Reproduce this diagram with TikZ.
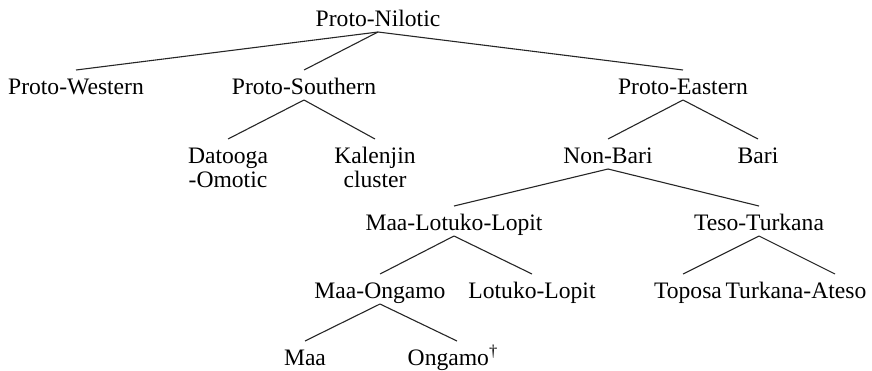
\documentclass[tikz,border=0pt]{standalone}
\usepackage{fontspec}
\setmainfont{LiberationSerif}[Extension=.ttf,UprightFont=*-Regular,BoldFont=*-Bold]
\begin{document}
\begin{tikzpicture}[x=0.5pt,y=-0.5pt,
  lang/.style={anchor=base,inner sep=0pt,font=\rmfamily\fontsize{11.8}{12}\selectfont},
  branch/.style={line width=0.55pt,black!85}]
\useasboundingbox (0,0) rectangle (872,370);
% level 0
\node[lang] (pn) at (378,26) {Proto-Nilotic};
% level 1
\node[lang] (pw) at (76,94) {Proto-Western};
\node[lang] (ps) at (304,94) {Proto-Southern};
\node[lang] (pe) at (683,94) {Proto-Eastern};
% level 2
\node[lang] (dat) at (228,163) {\begin{tabular}[t]{@{}c@{}}Datooga\\-Omotic\end{tabular}};
\node[lang] (kal) at (375,163) {\begin{tabular}[t]{@{}c@{}}Kalenjin\\cluster\end{tabular}};
\node[lang] (nb) at (608,163) {Non-Bari};
\node[lang] (bari) at (758,163) {Bari};
% level 3
\node[lang] (mll) at (454,230) {Maa-Lotuko-Lopit};
\node[lang] (tt) at (759,230) {Teso-Turkana};
% level 4
\node[lang] (mo) at (380,298) {Maa-Ongamo};
\node[lang] (ll) at (532,298) {Lotuko-Lopit};
\node[lang] (top) at (688,298) {Toposa};
\node[lang] (ta) at (796,298) {Turkana-Ateso};
% level 5
\node[lang] (maa) at (305,365) {Maa};
\node[lang] (ong) at (453,365) {Ongamo\textsuperscript{†}};
% branches
\foreach \p/\c in {pn/pw,pn/ps,pn/pe,ps/dat,ps/kal,pe/nb,pe/bari,nb/mll,nb/tt,mll/mo,mll/ll,mo/maa}
  \draw[branch] ([yshift=-3pt]\p.base) -- ([yshift=12pt]\c.base);
\draw[branch] ([yshift=-3pt]tt.base) -- ([xshift=-2.5pt,yshift=12pt]top.base);
\draw[branch] ([yshift=-3pt]tt.base) -- ([xshift=19.5pt,yshift=12pt]ta.base);
\draw[branch] ([yshift=-3pt]mo.base) -- ([xshift=2pt,yshift=12pt]ong.base);
\end{tikzpicture}
\end{document}
